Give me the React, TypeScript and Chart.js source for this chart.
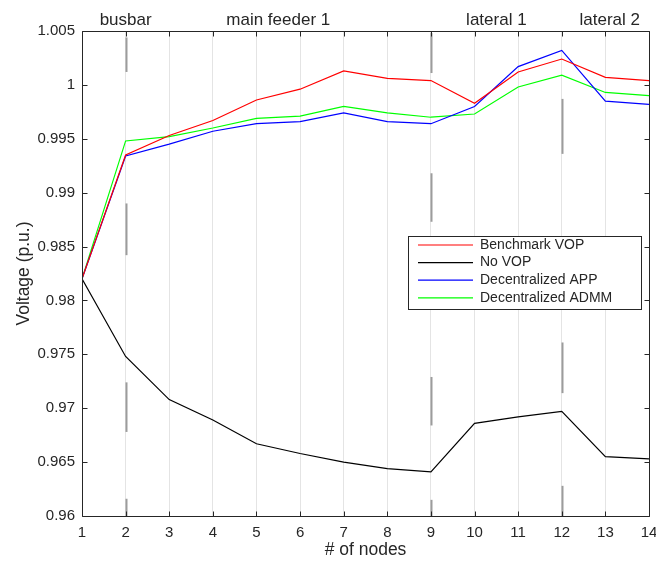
import React, { useEffect, useRef } from "react";
import { Chart, registerables } from "chart.js";

Chart.register(...registerables);

const nodes = [1, 2, 3, 4, 5, 6, 7, 8, 9, 10, 11, 12, 13, 14];
const benchmarkVOP = [0.982, 0.9935, 0.9953, 0.9967, 0.9986, 0.9996, 1.0013, 1.0006, 1.0004, 0.9983, 1.0012, 1.0024, 1.0007, 1.0004];
const noVOP = [0.982, 0.9748, 0.9708, 0.9689, 0.9667, 0.9658, 0.965, 0.9644, 0.9641, 0.9686, 0.9692, 0.9697, 0.9655, 0.9653];
const decentralizedAPP = [0.982, 0.9934, 0.9945, 0.9957, 0.9964, 0.9966, 0.9974, 0.9966, 0.9964, 0.998, 1.0017, 1.0032, 0.9985, 0.9982];
const decentralizedADMM = [0.982, 0.9948, 0.9952, 0.996, 0.9969, 0.9971, 0.998, 0.9974, 0.997, 0.9973, 0.9998, 1.0009, 0.9993, 0.999];

const seriesNames = ["Benchmark VOP", "No VOP", "Decentralized APP", "Decentralized ADMM"];
const seriesColors = ["#ff0000", "#000000", "#0000ff", "#00ff00"];

const sectionLabels = ["busbar", "main feeder 1", "lateral 1", "lateral 2"];
const sectionLabelNodes = [2, 5.5, 10.5, 13.1];

const markerNodes = [2, 9, 12];
const markerSegments = [
  [[1.0044, 1.0012], [0.989, 0.9842], [0.9724, 0.9678], [0.9616, 0.96]],
  [[1.0048, 1.0011], [0.9918, 0.9873], [0.9729, 0.9684], [0.9615, 0.96]],
  [[0.9987, 0.9936], [0.9761, 0.9714], [0.9628, 0.96]],
];

const FONT = "'Liberation Sans', Arial, Helvetica, sans-serif";
const AXIS = "#262626";

const decorPlugin = {
  id: "decor",
  beforeDatasetsDraw(chart: any) {
    const { ctx } = chart;
    const xs = chart.scales.x;
    const ys = chart.scales.y;
    ctx.save();
    ctx.strokeStyle = "#9c9c9c";
    ctx.lineWidth = 2;
    markerNodes.forEach((n, i) => {
      const px = Math.round(xs.getPixelForValue(n)) + 0.5;
      markerSegments[i].forEach(([a, b]) => {
        ctx.beginPath();
        ctx.moveTo(px, ys.getPixelForValue(a));
        ctx.lineTo(px, ys.getPixelForValue(b));
        ctx.stroke();
      });
    });
    ctx.restore();
  },
  afterDraw(chart: any) {
    const { ctx, chartArea } = chart;
    const xs = chart.scales.x;
    const ys = chart.scales.y;
    const { left, right, top, bottom } = chartArea;
    ctx.save();
    ctx.strokeStyle = AXIS;
    ctx.lineWidth = 1;
    const L = Math.round(left) + 0.5;
    const R = Math.round(right) + 0.5;
    const T = Math.round(top) + 0.5;
    const B = Math.round(bottom) + 0.5;
    ctx.beginPath();
    ctx.rect(L, T, R - L, B - T);
    ctx.stroke();
    const tl = 5;
    ctx.beginPath();
    xs.ticks.forEach((t: any) => {
      const p = Math.round(xs.getPixelForValue(t.value)) + 0.5;
      ctx.moveTo(p, B);
      ctx.lineTo(p, B - tl);
      ctx.moveTo(p, T);
      ctx.lineTo(p, T + tl);
    });
    ys.ticks.forEach((t: any) => {
      const p = Math.round(ys.getPixelForValue(t.value)) + 0.5;
      ctx.moveTo(L, p);
      ctx.lineTo(L + tl, p);
      ctx.moveTo(R, p);
      ctx.lineTo(R - tl, p);
    });
    ctx.stroke();

    // section labels
    ctx.fillStyle = AXIS;
    ctx.font = `17px ${FONT}`;
    ctx.textAlign = "center";
    ctx.textBaseline = "middle";
    sectionLabels.forEach((s, i) => {
      ctx.fillText(s, xs.getPixelForValue(sectionLabelNodes[i]), top - 11);
    });

    // legend
    const bx = 408.5, by = 236.5, bw = 233, bh = 73;
    ctx.fillStyle = "#ffffff";
    ctx.fillRect(bx, by, bw, bh);
    ctx.strokeStyle = AXIS;
    ctx.lineWidth = 1;
    ctx.strokeRect(bx, by, bw, bh);
    ctx.font = `14px ${FONT}`;
    ctx.textAlign = "left";
    ctx.textBaseline = "middle";
    seriesNames.forEach((name, i) => {
      const yy = 245 + i * 17.6;
      ctx.strokeStyle = seriesColors[i];
      ctx.lineWidth = 1.2;
      ctx.beginPath();
      ctx.moveTo(418, yy);
      ctx.lineTo(473, yy);
      ctx.stroke();
      ctx.fillStyle = AXIS;
      ctx.fillText(name, 480, yy);
    });
    ctx.restore();
  },
};

export default function App() {
  const ref = useRef<HTMLCanvasElement>(null);
  useEffect(() => {
    if (!ref.current) return;
    const series = [benchmarkVOP, noVOP, decentralizedAPP, decentralizedADMM];
    const chart = new Chart(ref.current, {
      type: "line",
      data: {
        datasets: series.map((vals, i) => ({
          label: seriesNames[i],
          data: nodes.map((n, j) => ({ x: n, y: vals[j] })),
          borderColor: seriesColors[i],
          backgroundColor: seriesColors[i],
          borderWidth: 1.2,
          pointRadius: 0,
          tension: 0,
          fill: false,
        })),
      },
      options: {
        animation: false,
        responsive: true,
        maintainAspectRatio: false,
        layout: { padding: { left: 0, right: 7, top: 31, bottom: 0 } },
        plugins: { legend: { display: false }, tooltip: { enabled: false } },
        scales: {
          x: {
            type: "linear",
            min: 1,
            max: 14,
            afterFit: (s: any) => { s.height = 45; s.paddingLeft = 0; s.paddingRight = 0; },
            ticks: { stepSize: 1, color: AXIS, font: { family: FONT, size: 15 }, padding: 8, maxRotation: 0 },
            grid: { color: "#e4e4e4", lineWidth: 1, drawTicks: false },
            border: { display: false },
            title: { display: true, text: "# of nodes", color: AXIS, font: { family: FONT, size: 17.5 }, padding: { top: 0, bottom: 0 } },
          },
          y: {
            type: "linear",
            min: 0.96,
            max: 1.005,
            afterFit: (s: any) => { s.width = 82; s.paddingTop = 0; s.paddingBottom = 0; },
            ticks: {
              stepSize: 0.005,
              color: AXIS,
              font: { family: FONT, size: 15 },
              padding: 7,
              callback: (v: any) => String(parseFloat(Number(v).toFixed(3))),
            },
            grid: { display: false, drawTicks: false },
            border: { display: false },
            title: { display: true, text: "Voltage (p.u.)", color: AXIS, font: { family: FONT, size: 17.5 }, padding: { top: 14, bottom: 0 } },
          },
        },
      },
      plugins: [decorPlugin],
    });
    return () => chart.destroy();
  }, []);
  return (
    <div style={{ position: "fixed", left: 0, top: 0, width: 656, height: 561, background: "#fff" }}>
      <canvas ref={ref} />
    </div>
  );
}
